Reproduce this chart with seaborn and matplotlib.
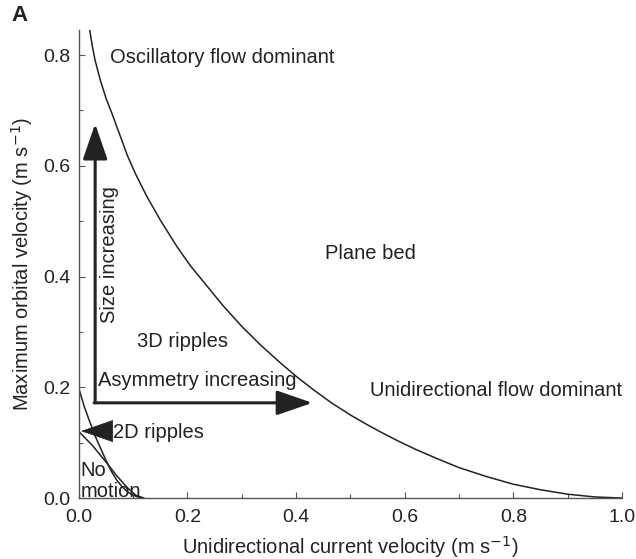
import numpy as np
import pandas as pd
import matplotlib
matplotlib.use("Agg")
import matplotlib.pyplot as plt
import seaborn as sns
from matplotlib.ticker import MultipleLocator

sns.set_theme(style="ticks")
plt.rcParams['font.family'] = ['Liberation Sans', 'DejaVu Sans']

# Main boundary: ripples / plane bed
main_x = [0.02, 0.025, 0.03, 0.04, 0.05, 0.06, 0.075, 0.09, 0.105, 0.125, 0.15, 0.18,
          0.205, 0.23, 0.265, 0.30, 0.335, 0.37, 0.40, 0.43, 0.465, 0.50, 0.53,
          0.56, 0.59, 0.62, 0.66, 0.70, 0.75, 0.80, 0.85, 0.90, 0.95, 1.00]
main_y = [0.845, 0.815, 0.79, 0.753, 0.722, 0.697, 0.657, 0.617, 0.584, 0.545, 0.502, 0.455,
          0.42, 0.39, 0.348, 0.31, 0.276, 0.245, 0.22, 0.197, 0.172, 0.15, 0.133,
          0.117, 0.102, 0.088, 0.071, 0.055, 0.039, 0.025, 0.015, 0.007, 0.002, 0.0]

# Threshold-of-motion boundary
thr_x = [0.0, 0.01, 0.02, 0.03, 0.04, 0.05, 0.06, 0.07, 0.08, 0.09, 0.10, 0.115]
thr_y = [0.198, 0.165, 0.138, 0.112, 0.09, 0.068, 0.048, 0.032, 0.02, 0.011, 0.005, 0.0]

# 2D ripple boundary
r2d_x = [0.0, 0.025, 0.05, 0.07, 0.09, 0.105, 0.12]
r2d_y = [0.12, 0.095, 0.065, 0.04, 0.018, 0.005, 0.0]

x_ticks = [0.0, 0.2, 0.4, 0.6, 0.8, 1.0]
y_ticks = [0.0, 0.2, 0.4, 0.6, 0.8]

ink = "#222222"

fig = plt.figure(figsize=(6.36, 5.59), dpi=100)
ax = fig.add_axes([0.124, 0.109, 0.854, 0.837])

for xs, ys in [(main_x, main_y), (thr_x, thr_y), (r2d_x, r2d_y)]:
    df = pd.DataFrame({"x": xs, "y": ys})
    sns.lineplot(data=df, x="x", y="y", ax=ax, color=ink, lw=1.1,
                 sort=False, estimator=None)

ax.set_xlim(0, 1.0)
ax.set_ylim(0, 0.845)
ax.set_xticks(x_ticks)
ax.set_yticks(y_ticks)
ax.set_xticklabels([f"{v:.1f}" for v in x_ticks])
ax.set_yticklabels([f"{v:.1f}" for v in y_ticks])
ax.xaxis.set_minor_locator(MultipleLocator(0.1))
ax.yaxis.set_minor_locator(MultipleLocator(0.1))
ax.tick_params(which="both", direction="in", color="#555555", width=0.8,
               labelsize=14, labelcolor=ink)
ax.tick_params(which="major", length=4, pad=6)
ax.tick_params(axis="x", which="major", pad=8)
ax.tick_params(which="minor", length=3)
sns.despine(ax=ax)
for s in ["left", "bottom"]:
    ax.spines[s].set_color("#555555")
    ax.spines[s].set_linewidth(1.0)

ax.set_xlabel("Unidirectional current velocity (m s$^{-1}$)", fontsize=14.5,
              color=ink, labelpad=6)
ax.set_ylabel("Maximum orbital velocity (m s$^{-1}$)", fontsize=14.5,
              color=ink, labelpad=6)

fs = 14.5
ax.text(0.057, 0.795, "Oscillatory flow dominant", fontsize=fs, color=ink, va="center")
ax.text(0.536, 0.442, "Plane bed", fontsize=fs, color=ink, va="center", ha="center")
ax.text(0.19, 0.282, "3D ripples", fontsize=fs, color=ink, va="center", ha="center")
ax.text(0.035, 0.213, "Asymmetry increasing", fontsize=fs, color=ink, va="center")
ax.text(0.536, 0.195, "Unidirectional flow dominant", fontsize=fs, color=ink, va="center")
ax.text(0.063, 0.119, "2D ripples", fontsize=fs, color=ink, va="center")
ax.text(0.003, 0.05, "No", fontsize=fs, color=ink, va="center")
ax.text(0.003, 0.012, "motion", fontsize=fs, color=ink, va="center")
ax.text(0.057, 0.44, "Size increasing", fontsize=fs, color=ink, va="center",
        ha="center", rotation=90)

astyle = "-|>,head_length=1.1,head_width=0.38"
ax.annotate("", xy=(0.03, 0.676), xytext=(0.03, 0.172),
            arrowprops=dict(arrowstyle=astyle, color=ink, lw=2.2,
                            mutation_scale=20, shrinkA=0, shrinkB=0))
ax.annotate("", xy=(0.43, 0.172), xytext=(0.028, 0.172),
            arrowprops=dict(arrowstyle=astyle, color=ink, lw=2.2,
                            mutation_scale=20, shrinkA=0, shrinkB=0))
ax.annotate("", xy=(0.004, 0.121), xytext=(0.056, 0.121),
            arrowprops=dict(arrowstyle=astyle, color=ink, lw=0.5,
                            mutation_scale=20, shrinkA=0, shrinkB=0))

fig.text(0.018, 0.962, "A", fontsize=16, fontweight="bold", color=ink)

fig.savefig("out.png", dpi=100)
